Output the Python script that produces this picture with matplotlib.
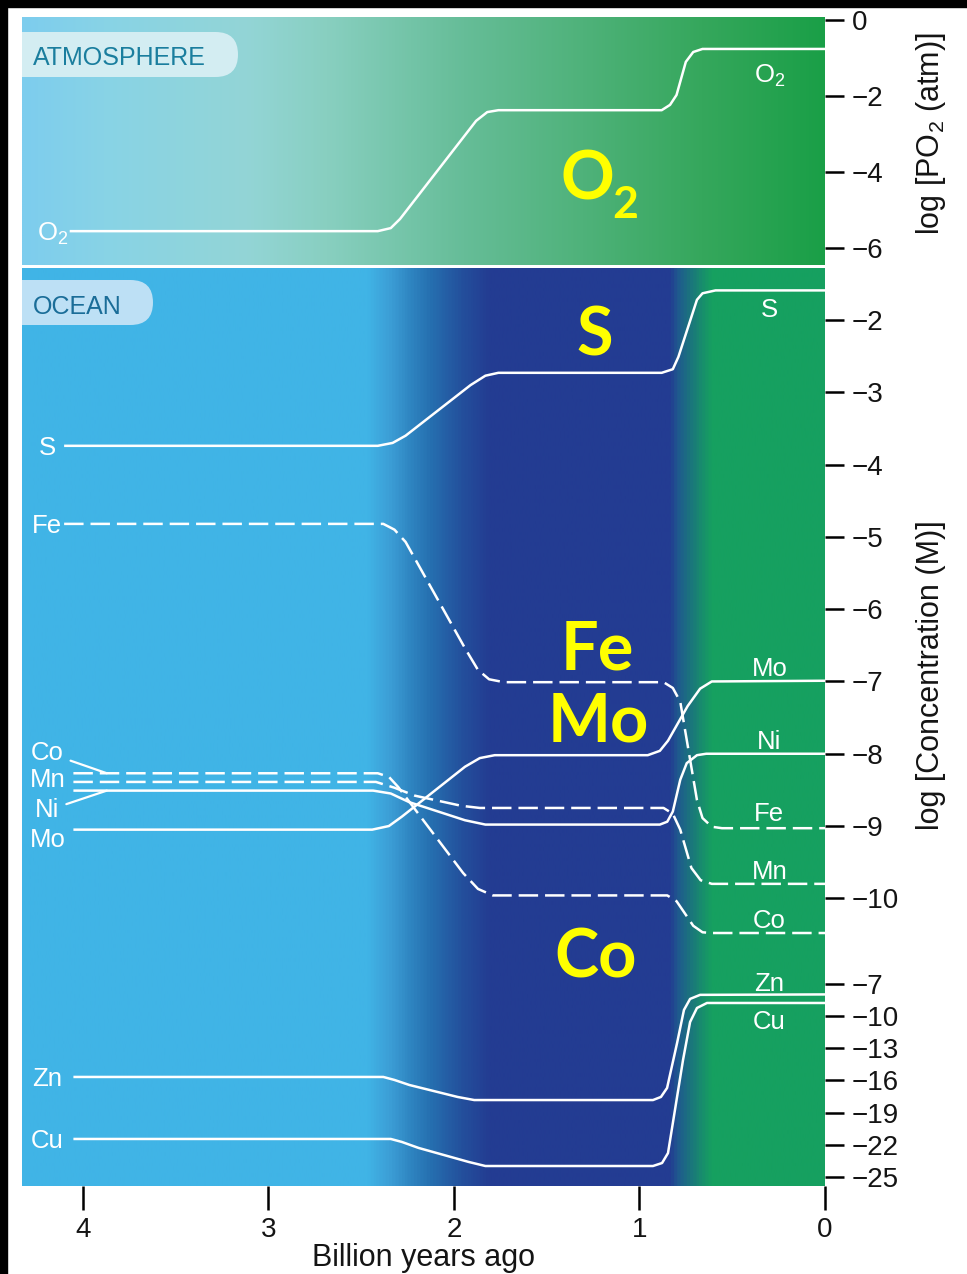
import numpy as np
import matplotlib
matplotlib.use("Agg")
import matplotlib.pyplot as plt
from matplotlib.colors import LinearSegmentedColormap
from matplotlib.patches import FancyBboxPatch, Rectangle

# time axis: billion years ago; values: log10 of partial pressure / concentration
o2_t = [4.07, 2.41, 2.34, 2.29, 1.88, 1.82, 1.76, 0.88, 0.835, 0.80, 0.75, 0.71, 0.66, 0.0]
o2_v = [-5.55, -5.55, -5.47, -5.23, -2.65, -2.42, -2.37, -2.37, -2.23, -1.97, -1.10, -0.84, -0.76, -0.76]

s_t = [4.10, 2.41, 2.33, 2.26, 1.91, 1.83, 1.76, 0.88, 0.82, 0.79, 0.69, 0.66, 0.59, 0.0]
s_v = [-3.74, -3.74, -3.70, -3.60, -2.90, -2.77, -2.73, -2.73, -2.68, -2.51, -1.72, -1.63, -1.59, -1.59]

fe_t = [4.10, 2.38, 2.32, 2.26, 1.94, 1.87, 1.81, 1.73, 0.87, 0.82, 0.78, 0.69, 0.66, 0.61, 0.555, 0.0]
fe_v = [-4.82, -4.82, -4.90, -5.07, -6.54, -6.84, -6.97, -7.01, -7.01, -7.09, -7.28, -8.64, -8.89, -9.01, -9.03, -9.03]

co_t = [4.05, 2.41, 2.35, 2.30, 1.95, 1.87, 1.79, 0.85, 0.80, 0.76, 0.71, 0.66, 0.61, 0.0]
co_v = [-8.27, -8.27, -8.32, -8.46, -9.65, -9.87, -9.96, -9.96, -10.04, -10.19, -10.38, -10.47, -10.48, -10.48]

mn_t = [4.05, 2.42, 2.32, 2.21, 1.96, 1.86, 0.87, 0.82, 0.78, 0.72, 0.67, 0.61, 0.0]
mn_v = [-8.39, -8.39, -8.47, -8.58, -8.72, -8.75, -8.75, -8.83, -9.05, -9.58, -9.75, -9.80, -9.80]

ni_t = [4.05, 2.435, 2.34, 2.24, 1.94, 1.83, 0.89, 0.85, 0.82, 0.78, 0.745, 0.69, 0.64, 0.0]
ni_v = [-8.51, -8.51, -8.55, -8.67, -8.92, -8.98, -8.98, -8.94, -8.80, -8.36, -8.13, -8.02, -8.00, -8.00]

mo_t = [4.05, 2.44, 2.35, 2.28, 1.94, 1.86, 1.78, 0.955, 0.89, 0.846, 0.74, 0.673, 0.61, 0.0]
mo_v = [-9.05, -9.05, -9.00, -8.87, -8.18, -8.06, -8.02, -8.02, -7.96, -7.82, -7.34, -7.10, -7.00, -6.99]

zn_t = [4.05, 2.38, 2.32, 2.24, 1.98, 1.89, 0.927, 0.884, 0.851, 0.797, 0.76, 0.727, 0.673, 0.0]
zn_v = [-15.67, -15.67, -15.95, -16.42, -17.54, -17.83, -17.83, -17.54, -16.70, -12.49, -9.40, -8.37, -7.99, -7.95]

cu_t = [4.05, 2.34, 2.28, 2.19, 1.92, 1.83, 0.927, 0.878, 0.846, 0.765, 0.727, 0.69, 0.636, 0.0]
cu_v = [-21.47, -21.47, -21.75, -22.31, -23.62, -24.00, -24.00, -23.72, -22.79, -14.08, -10.53, -9.22, -8.75, -8.75]

atm_ticks = [0, -2, -4, -6]
ocean_ticks = [-2, -3, -4, -5, -6, -7, -8, -9, -10]
trace_ticks = [-7, -10, -13, -16, -19, -22, -25]
age_ticks = [4, 3, 2, 1, 0]

plt.rcParams['font.family'] = ['Liberation Sans', 'DejaVu Sans']
plt.rcParams['lines.scale_dashes'] = False

W, H = 967, 1274
def fx(x):
    return x / W
def fy(y):
    return 1 - y / H

fig = plt.figure(figsize=(W / 100, H / 100), dpi=100)
fig.patch.set_facecolor('white')
fig.add_artist(Rectangle((0, 0), fx(7), 1, transform=fig.transFigure, color='black', zorder=0))
fig.add_artist(Rectangle((0, fy(7)), 1, 1, transform=fig.transFigure, color='black', zorder=0))

def panel(top, bottom):
    return [fx(22), fy(bottom), (825 - 22) / W, (bottom - top) / H]

ax_atm = fig.add_axes(panel(17, 265))
ax_ocn = fig.add_axes(panel(268, 1186))
ax_low = fig.add_axes(panel(268, 1186), sharex=ax_ocn)
ax_low.set_facecolor('none')

atm_cmap = LinearSegmentedColormap.from_list('atm', [
    (0.0, '#7dcdee'), (0.1, '#88d3e6'), (0.28, '#93d5d6'), (0.38, '#88cfc0'),
    (0.55, '#66bd98'), (0.7, '#4fb27a'), (0.85, '#35a75c'), (1.0, '#1a9f47')])
ocn_cmap = LinearSegmentedColormap.from_list('ocn', [
    (0.0, '#40b4e6'), (0.43, '#40b4e6'), (0.458, '#3c9ed6'), (0.483, '#2f86c2'),
    (0.508, '#2670b0'), (0.549, '#234f9c'), (0.583, '#233c92'), (0.809, '#233c92'),
    (0.819, '#1f5a8e'), (0.838, '#1a7c78'), (0.861, '#16a060'), (1.0, '#16a060')])
ramp = np.linspace(0, 1, 1000).reshape(1, -1)
for ax, cmap in ((ax_atm, atm_cmap), (ax_ocn, ocn_cmap)):
    ax.imshow(ramp, cmap=cmap, aspect='auto', extent=(0, 1, 0, 1),
              transform=ax.transAxes, interpolation='bilinear', zorder=0)

XLIM = (4.327, 0)
ax_atm.set_xlim(XLIM)
ax_ocn.set_xlim(XLIM)
ax_atm.set_ylim(-6.44, 0.08)
ax_ocn.set_ylim(-13.98, -1.28)
ax_low.set_ylim(-25.87, 60.0)

for ax in (ax_atm, ax_ocn, ax_low):
    for sp in ax.spines.values():
        sp.set_visible(False)
    ax.yaxis.tick_right()
    ax.tick_params(axis='y', direction='out', length=14, width=1.8, pad=5,
                   labelsize=20, colors='black', labelcolor='#141414')

ax_atm.set_xticks([])
ax_atm.set_yticks(atm_ticks)
ax_ocn.set_yticks(ocean_ticks)
ax_low.set_yticks(trace_ticks)
ax_ocn.set_xticks(age_ticks)
ax_ocn.set_xticklabels([str(a) for a in age_ticks])
ax_ocn.tick_params(axis='x', direction='out', length=17, width=1.8, pad=5,
                   labelsize=20, colors='black', labelcolor='#141414')
ax_low.tick_params(axis='x', bottom=False, labelbottom=False)

line = dict(color='white', lw=1.8, solid_capstyle='butt', dash_capstyle='butt',
            solid_joinstyle='round', dash_joinstyle='round', zorder=3)
dash = (0, (14, 5))
ax_atm.plot(o2_t, o2_v, **line)
ax_ocn.plot(s_t, s_v, **line)
ax_ocn.plot(fe_t, fe_v, ls=dash, **line)
ax_ocn.plot(co_t, co_v, ls=dash, **line)
ax_ocn.plot(mn_t, mn_v, ls=dash, **line)
ax_ocn.plot(ni_t, ni_v, **line)
ax_ocn.plot(mo_t, mo_v, **line)
ax_low.plot(zn_t, zn_v, **line)
ax_low.plot(cu_t, cu_v, **line)

lab = dict(color='white', fontsize=18.5, ha='center', va='center_baseline', zorder=4)
LX = 4.19
ax_atm.text(4.16, o2_v[0], r'$\mathregular{O_2}$', **lab)
ax_ocn.text(LX, s_v[0], 'S', **lab)
ax_ocn.text(LX, fe_v[0], 'Fe', **lab)
ax_ocn.text(LX, -8.33, 'Mn', **lab)
ax_ocn.text(LX, -9.16, 'Mo', **lab)
ax_low.text(LX, zn_v[0], 'Zn', **lab)
ax_low.text(LX, cu_v[0], 'Cu', **lab)
leader = dict(arrowstyle='-', color='white', lw=1.6, shrinkA=3, shrinkB=0)
ax_ocn.annotate('Co', xy=(3.87, co_v[0]), xytext=(LX, -7.95), arrowprops=leader, **lab)
ax_ocn.annotate('Ni', xy=(3.87, ni_v[0]), xytext=(LX, -8.75), arrowprops=leader, **lab)

# labels at the present-day end of each curve (offsets in points)
RX = 0.30
def end_label(ax, text, value, dy):
    ax.annotate(text, xy=(RX, value), xytext=(0, dy), textcoords='offset points', **lab)

end_label(ax_atm, r'$\mathregular{O_2}$', o2_v[-1], -17)
end_label(ax_ocn, 'S', s_v[-1], -12)
end_label(ax_ocn, 'Mo', mo_v[-1], 10.5)
end_label(ax_ocn, 'Ni', ni_v[-1], 10.5)
end_label(ax_ocn, 'Fe', fe_v[-1], 12)
end_label(ax_ocn, 'Mn', mn_v[-1], 10.5)
end_label(ax_ocn, 'Co', co_v[-1], 10.5)
end_label(ax_low, 'Zn', zn_v[-1], 9)
end_label(ax_low, 'Cu', cu_v[-1], -12)

# panel tags
def tag(ax, text, top, bottom, right, baseline, fill, color):
    h = (bottom - top) / 100
    box = FancyBboxPatch((-0.5, (H - bottom) / 100), right / 100 + 0.5, h,
                         boxstyle=f'round,pad=0,rounding_size={h / 2}',
                         transform=fig.dpi_scale_trans, facecolor=fill,
                         edgecolor='none', zorder=2)
    ax.add_patch(box)
    fig.text(fx(33), fy(baseline), text, color=color, fontsize=18,
             ha='left', va='baseline', zorder=5)

tag(ax_atm, 'ATMOSPHERE', 32, 77, 238, 65, '#d3edf2', '#1a7e9e')
tag(ax_ocn, 'OCEAN', 280, 325, 153, 314, '#bde0f5', '#1a6d98')

# large highlight labels
big = dict(color='#ffff00', fontsize=48, fontweight='bold', family='Lato',
           va='baseline', zorder=6)
fig.text(fx(587), fy(200), 'O', ha='center', **big)
big_sub = dict(big, fontsize=32)
fig.text(fx(612), fy(218), '2', ha='left', **big_sub)
fig.text(fx(595), fy(355), 'S', ha='center', **big)
fig.text(fx(597), fy(669), 'Fe', ha='center', **big)
fig.text(fx(598), fy(742), 'Mo', ha='center', **big)
fig.text(fx(596), fy(977), 'Co', ha='center', **big)

# axis titles
fig.text(fx(931), fy(134), r'log [$\mathregular{PO_2}$ (atm)]', rotation=90,
         ha='center', va='center', fontsize=22, color='#141414')
fig.text(fx(931), fy(675), 'log [Concentration (M)]', rotation=90,
         ha='center', va='center', fontsize=22, color='#141414')
fig.text(fx(423), fy(1258), 'Billion years ago', ha='center', va='center',
         fontsize=22, color='#141414')

fig.savefig('out.png', dpi=100, facecolor=fig.get_facecolor())
